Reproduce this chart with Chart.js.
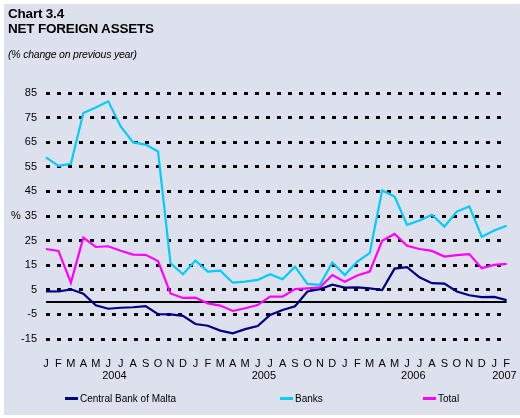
<!DOCTYPE html>
<html>
<head>
<meta charset="utf-8">
<script src="https://cdn.jsdelivr.net/npm/chart.js@4/dist/chart.umd.min.js"></script>
<style>
  html, body { margin: 0; padding: 0; background: #ffffff; }
  body { width: 520px; height: 418px; position: relative; overflow: hidden;
         font-family: "Liberation Sans", Arial, sans-serif; color: #000; }
  #panel { position: absolute; left: 4px; top: 4px; width: 516px; height: 411px; background: #dce1ed; }
  #wrap { position: absolute; left: 0; top: 0; width: 520px; height: 418px; }
  .t { position: absolute; left: 8px; white-space: nowrap; }
  #t1 { top: 6px; font-size: 13.5px; font-weight: bold; letter-spacing: -0.2px; }
  #t2 { top: 21px; font-size: 13.5px; font-weight: bold; letter-spacing: -0.2px; }
  #t3 { top: 48px; font-size: 10.5px; font-style: italic; letter-spacing: -0.2px; }
  #pct { position: absolute; left: 11px; top: 209px; font-size: 11px; }
  .lg { position: absolute; top: 392px; font-size: 10px; white-space: nowrap; line-height: 14px; }
  .lg span { display: inline-block; width: 13px; height: 2.5px; vertical-align: middle; margin-right: 2px; position: relative; top: -1px; }
</style>
</head>
<body>
<div id="panel"></div>
<div id="wrap"><canvas id="chart_canvas"></canvas></div>
<div class="t" id="t1">Chart 3.4</div>
<div class="t" id="t2">NET FOREIGN ASSETS</div>
<div class="t" id="t3">(% change on previous year)</div>
<div id="pct">%</div>
<div class="lg" style="left:65px"><span style="background:#000080"></span>Central Bank of Malta</div>
<div class="lg" style="left:280px"><span style="background:#00ccff"></span>Banks</div>
<div class="lg" style="left:423px"><span style="background:#ff00ff"></span>Total</div>
<script>
const startYear = 2004;
const months = [
  "J","F","M","A","M","J","J","A","S","O","N","D",
  "J","F","M","A","M","J","J","A","S","O","N","D",
  "J","F","M","A","M","J","J","A","S","O","N","D",
  "J","F"
];
const centralBank = [
  4.4, 4.3, 5.2, 3.4, -1.3, -2.7, -2.3, -2.1, -1.6, -4.9, -5.0, -5.6,
  -8.9, -9.6, -11.6, -12.7, -11.0, -9.7, -5.2, -3.2, -1.7, 4.3, 5.2, 7.1,
  5.9, 6.0, 5.6, 4.9, 13.6, 14.2, 10.1, 7.7, 7.5, 4.3, 2.8, 2.0,
  2.1, 0.8
];
const banks = [
  58.8, 55.4, 56.2, 76.9, 79.1, 81.6, 71.4, 64.9, 64.0, 61.2, 15.8, 11.3,
  16.9, 12.4, 12.8, 7.9, 8.3, 9.0, 11.3, 9.3, 14.4, 7.4, 7.0, 16.1,
  11.0, 16.5, 19.9, 45.4, 42.9, 31.4, 33.2, 35.5, 30.7, 36.8, 38.9, 26.6,
  29.1, 31.0
];
const total = [
  21.6, 20.8, 7.9, 26.2, 22.4, 22.7, 20.9, 19.3, 19.2, 16.7, 3.5, 1.7,
  1.8, -0.5, -1.4, -3.6, -2.5, -1.2, 2.2, 2.2, 5.3, 5.6, 6.0, 11.0,
  8.3, 10.8, 12.4, 24.9, 27.7, 22.9, 21.6, 20.8, 18.5, 19.1, 19.5, 13.8,
  15.1, 15.5
];
const yMin = -15, yMax = 85, yStep = 10;

// zero line under the series, year labels under the month letters
const extras = {
  id: "extras",
  beforeDatasetsDraw(chart) {
    const ctx = chart.ctx, area = chart.chartArea;
    const y0 = Math.round(chart.scales.y.getPixelForValue(0));
    ctx.save();
    ctx.strokeStyle = "#000";
    ctx.lineWidth = 2;
    ctx.beginPath();
    ctx.moveTo(area.left, y0);
    ctx.lineTo(area.right, y0);
    ctx.stroke();
    ctx.restore();
  },
  afterDraw(chart) {
    const ctx = chart.ctx, xs = chart.scales.x;
    const groups = {};
    months.forEach((m, i) => {
      const yr = startYear + Math.floor(i / 12);
      (groups[yr] = groups[yr] || []).push(i);
    });
    ctx.save();
    ctx.fillStyle = "#000";
    ctx.font = "11px 'Liberation Sans', Arial, sans-serif";
    ctx.textAlign = "center";
    ctx.textBaseline = "middle";
    Object.keys(groups).forEach(yr => {
      const idx = groups[yr];
      const mid = (xs.getPixelForValue(idx[0]) + xs.getPixelForValue(idx[idx.length - 1])) / 2;
      ctx.fillText(yr, mid + (idx.length < 12 ? 4 : 0), 376);
    });
    ctx.restore();
  }
};

const line = (label, data, color) => ({
  label: label,
  data: data,
  borderColor: color,
  backgroundColor: color,
  borderWidth: 2.2,
  pointRadius: 0,
  tension: 0,
  fill: false
});

new Chart(document.getElementById("chart_canvas").getContext("2d"), {
  type: "line",
  data: {
    labels: months,
    datasets: [
      line("Central Bank of Malta", centralBank, "#000080"),
      line("Banks", banks, "#00ccff"),
      line("Total", total, "#ff00ff")
    ]
  },
  options: {
    responsive: true,
    maintainAspectRatio: false,
    devicePixelRatio: 1,
    animation: false,
    layout: { padding: { left: 6, right: 8, top: 93, bottom: 49 } },
    plugins: { legend: { display: false }, tooltip: { enabled: false } },
    scales: {
      x: {
        offset: false,
        grid: { display: false },
        border: { display: false },
        afterFit: s => { s.height = 30; },
        ticks: {
          autoSkip: false, maxRotation: 0, minRotation: 0, padding: 10,
          color: "#000",
          font: { family: "'Liberation Sans', Arial, sans-serif", size: 11 }
        }
      },
      y: {
        min: yMin, max: yMax,
        afterFit: s => { s.width = 40; },
        afterBuildTicks: s => {
          s.ticks = [];
          for (let v = yMin; v <= yMax; v += yStep) s.ticks.push({ value: v });
        },
        grid: { color: "#000", lineWidth: 3, drawTicks: false },
        border: { display: false, dash: [4, 7] },
        ticks: {
          padding: 9,
          color: "#000",
          font: { family: "'Liberation Sans', Arial, sans-serif", size: 11 }
        }
      }
    }
  },
  plugins: [extras]
});
</script>
</body>
</html>
